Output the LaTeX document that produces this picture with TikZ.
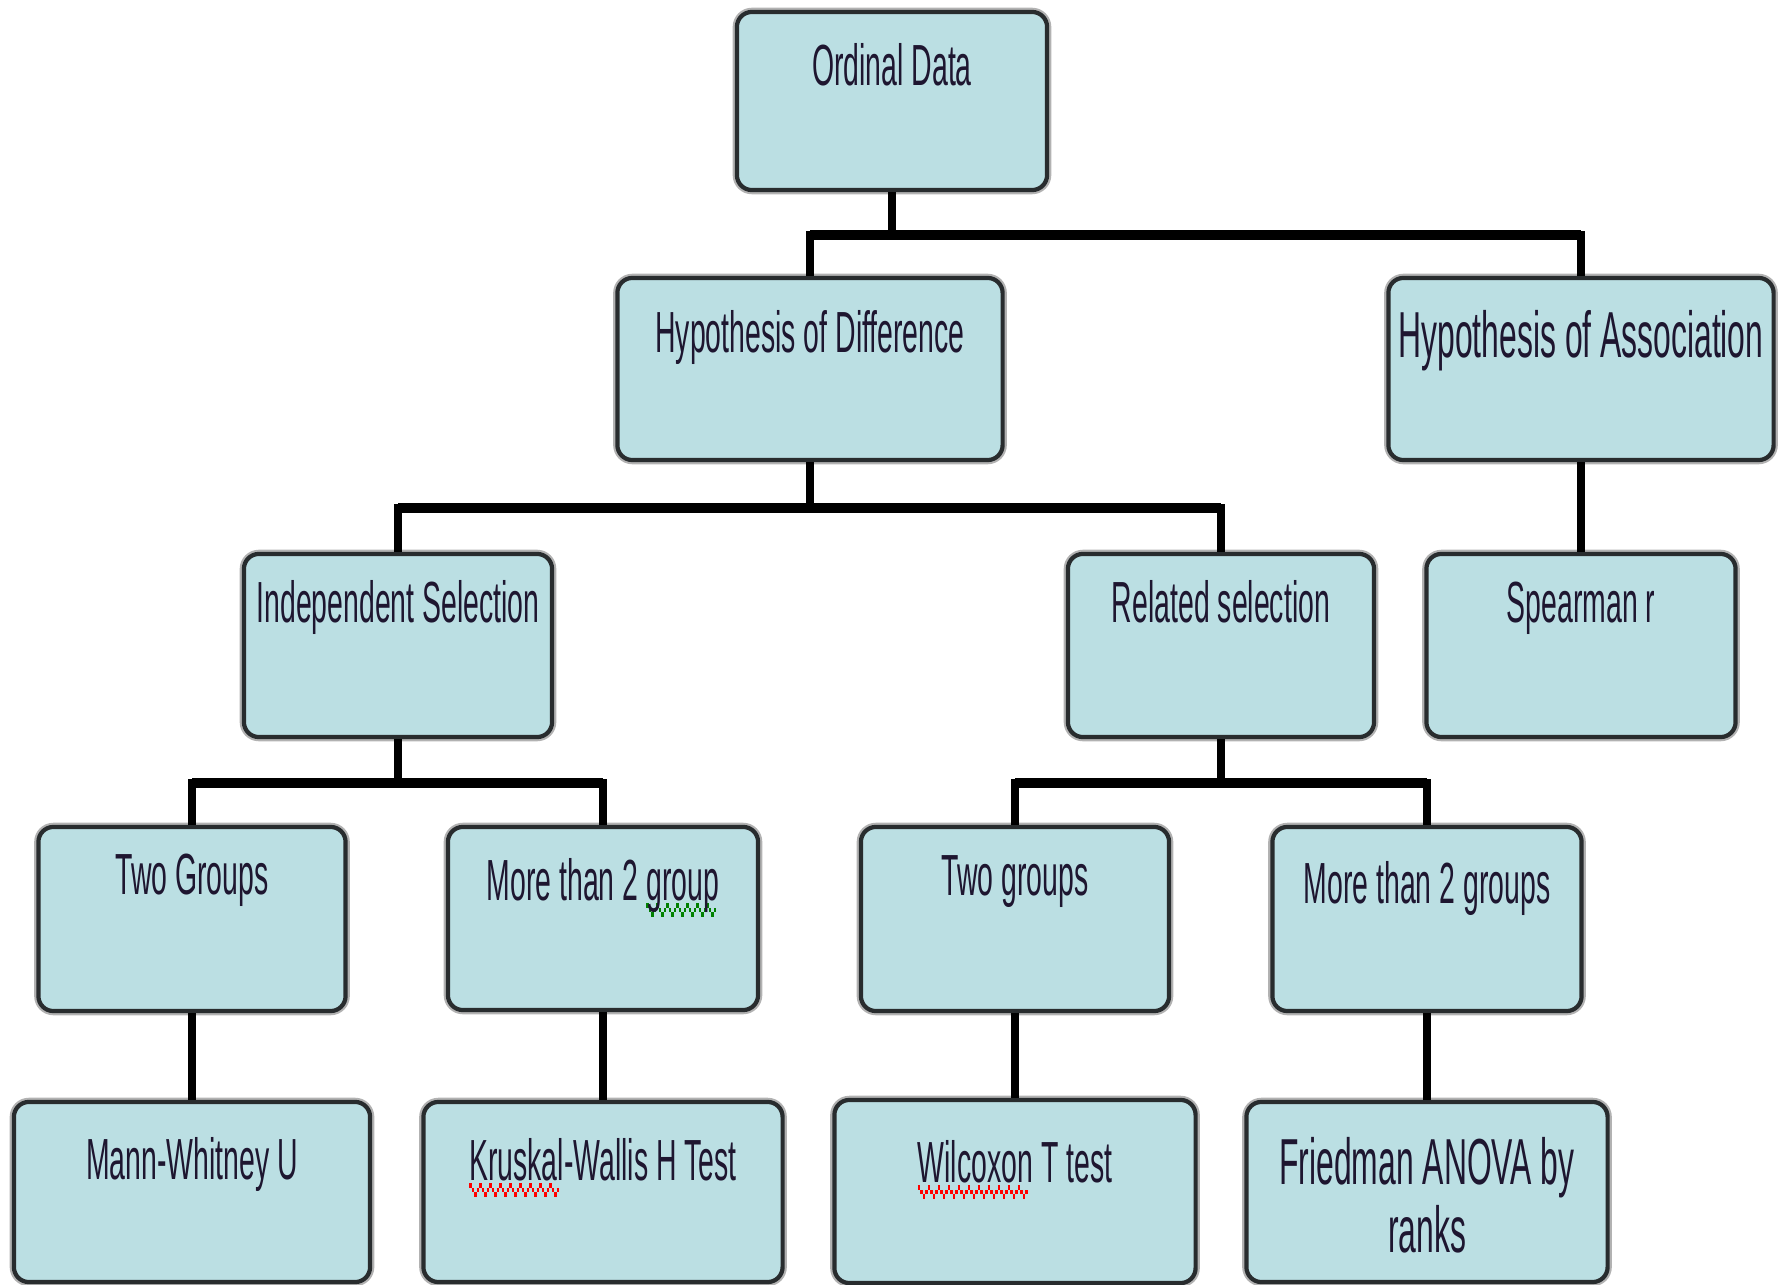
\documentclass[tikz,border=0pt]{standalone}
\usepackage{fontspec}
\usepackage{graphicx}
\setmainfont{Liberation Sans}
\usetikzlibrary{calc}

\definecolor{boxfill}{RGB}{187,223,227}
\definecolor{boxline}{RGB}{40,44,46}
\definecolor{inkc}{RGB}{30,22,48}
\definecolor{spellgreen}{RGB}{0,128,0}
\definecolor{spellred}{RGB}{255,0,0}

% narrow lettering
\newcommand\cnd[1]{\scalebox{0.49}[1]{#1}}
% wavy proofing underline
\newsavebox\sqbox
\newcommand\zigunit{\hbox{\rule[-1.9pt]{1.45pt}{1.4pt}\rule[-3.3pt]{1.45pt}{1.4pt}\rule[-4.7pt]{1.45pt}{1.4pt}\rule[-3.3pt]{1.45pt}{1.4pt}}}
\newcommand\squig[2]{\sbox\sqbox{#2}\rlap{\color{#1}\leaders\zigunit\hskip\wd\sqbox}\usebox\sqbox}

\tikzset{
  box/.style={draw=boxline, line width=1.2pt, fill=boxfill, rounded corners=0.15cm,
    inner sep=0pt, preaction={draw=black!30, line width=2.4pt}},
  lbl/.style={inner sep=0pt, anchor=base, text=inkc, font=\fontsize{16.5}{19}\selectfont},
  biglbl/.style={lbl, font=\fontsize{18.5}{21}\selectfont},
  stem/.style={draw=black, line width=2.1pt},
  bus/.style={draw=black, line width=3pt, line cap=butt},
}

\begin{document}
\begin{tikzpicture}[x=0.01cm, y=-0.01cm]
\useasboundingbox (0,0) rectangle (1787,1285);

% boxes
\node[box, minimum width=3.10cm, minimum height=1.78cm] (ord) at (892,101) {};
\node[box, minimum width=3.85cm, minimum height=1.82cm] (hd)  at (810,369) {};
\node[box, minimum width=3.85cm, minimum height=1.82cm] (ha)  at (1581,369) {};
\node[box, minimum width=3.08cm, minimum height=1.83cm] (ind) at (398,645.5) {};
\node[box, minimum width=3.06cm, minimum height=1.83cm] (rel) at (1221,645.5) {};
\node[box, minimum width=3.09cm, minimum height=1.83cm] (spr) at (1581,645.5) {};
\node[box, minimum width=3.07cm, minimum height=1.84cm] (tg)  at (192,919) {};
\node[box, minimum width=3.10cm, minimum height=1.83cm] (mg)  at (603,918.5) {};
\node[box, minimum width=3.08cm, minimum height=1.84cm] (tg2) at (1015,919) {};
\node[box, minimum width=3.09cm, minimum height=1.84cm] (mg2) at (1427,919) {};
\node[box, minimum width=3.56cm, minimum height=1.80cm] (mw)  at (192,1192) {};
\node[box, minimum width=3.59cm, minimum height=1.80cm] (kw)  at (603,1192) {};
\node[box, minimum width=3.61cm, minimum height=1.83cm] (wx)  at (1015,1191.5) {};
\node[box, minimum width=3.61cm, minimum height=1.80cm] (fr)  at (1427,1192) {};

% labels
\node[lbl] (ord-t) at ($(ord.north)+(0,76)$) {\cnd{Ordinal Data}};
\node[lbl] (hd-t)  at ($(hd.north)+(0,77)$)  {\cnd{Hypothesis of Difference}};
\node[biglbl] (ha-t) at ($(ha.north)+(0,82)$) {\cnd{Hypothesis of Association}};
\node[lbl] (ind-t) at ($(ind.north)+(0,71)$) {\cnd{Independent Selection}};
\node[lbl] (rel-t) at ($(rel.north)+(0,71)$) {\cnd{Related selection}};
\node[lbl] (spr-t) at ($(spr.north)+(0,71)$) {\cnd{Spearman r}};
\node[lbl] (tg-t)  at ($(tg.north)+(0,70)$)  {\cnd{Two Groups}};
\node[lbl] (mg-t)  at ($(mg.north)+(0,76)$)  {\cnd{More than 2 \squig{spellgreen}{group}}};
\node[lbl] (tg2-t) at ($(tg2.north)+(0,71)$) {\cnd{Two groups}};
\node[lbl] (mg2-t) at ($(mg2.north)+(0,79)$) {\cnd{More than 2 groups}};
\node[lbl] (mw-t)  at ($(mw.north)+(0,80)$)  {\cnd{Mann-Whitney U}};
\node[lbl] (kw-t)  at ($(kw.north)+(0,81)$)  {\cnd{\squig{spellred}{Kruskal}-Wallis H Test}};
\node[lbl] (wx-t)  at ($(wx.north)+(0,85)$)  {\cnd{\squig{spellred}{Wilcoxon} T test}};
\node[biglbl] (fr-t1) at ($(fr.north)+(0,85)$)  {\cnd{Friedman ANOVA by}};
\node[biglbl] (fr-t2) at ($(fr.north)+(0,153)$) {\cnd{ranks}};

% bus levels
\coordinate (y1) at (0,235);
\coordinate (y2) at (0,508);
\coordinate (y3) at (0,783);

% Ordinal Data -> hypotheses
\draw[stem] (ord.south) -- (ord.south |- y1);
\draw[stem] (hd.north) |- (ha.north |- y1) -- (ha.north);
\draw[bus] (hd.north |- y1) -- (ha.north |- y1);

% Hypothesis of Difference -> selections
\draw[stem] (hd.south) -- (hd.south |- y2);
\draw[stem] (ind.north) |- (rel.north |- y2) -- (rel.north);
\draw[bus] (ind.north |- y2) -- (rel.north |- y2);

% Hypothesis of Association -> Spearman r
\draw[stem] (ha.south) -- (spr.north);

% Independent Selection -> group counts
\draw[stem] (ind.south) -- (ind.south |- y3);
\draw[stem] (tg.north) |- (mg.north |- y3) -- (mg.north);
\draw[bus] (tg.north |- y3) -- (mg.north |- y3);

% Related selection -> group counts
\draw[stem] (rel.south) -- (rel.south |- y3);
\draw[stem] (tg2.north) |- (mg2.north |- y3) -- (mg2.north);
\draw[bus] (tg2.north |- y3) -- (mg2.north |- y3);

% group counts -> tests
\draw[stem] (tg.south) -- (mw.north);
\draw[stem] (mg.south) -- (kw.north);
\draw[stem] (tg2.south) -- (wx.north);
\draw[stem] (mg2.south) -- (fr.north);
\end{tikzpicture}
\end{document}
